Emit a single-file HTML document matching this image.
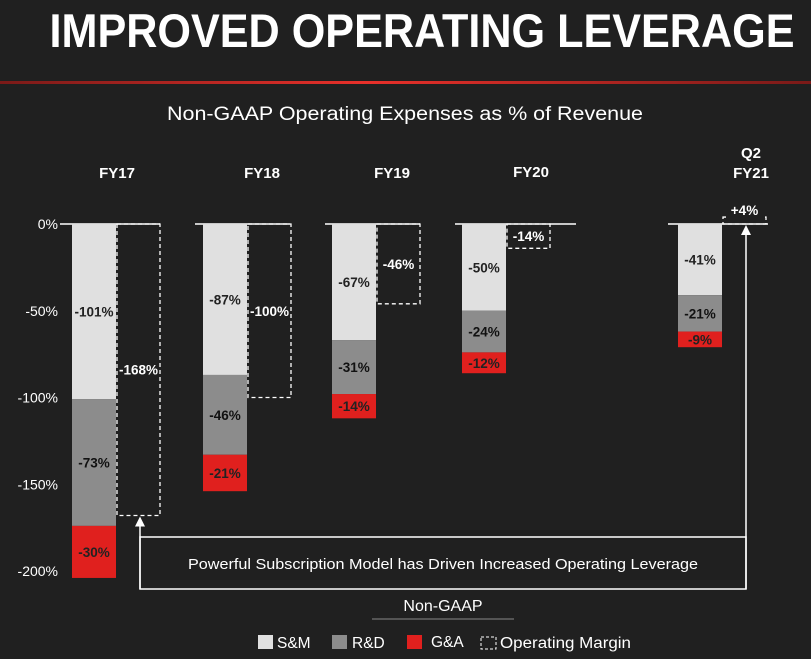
<!DOCTYPE html>
<html><head><meta charset="utf-8"><style>
body{margin:0;background:#202020;width:811px;height:654px;overflow:hidden;font-family:"Liberation Sans",sans-serif}
</style></head><body>
<svg width="811" height="654">
<rect width="811" height="654" fill="#202020"/>
<text x="422" y="47" text-anchor="middle" fill="#fff" font-size="47" font-weight="bold" textLength="745" lengthAdjust="spacingAndGlyphs">IMPROVED OPERATING LEVERAGE</text>
<defs><linearGradient id="rg"><stop offset="0" stop-color="#7a1a18"/><stop offset="0.45" stop-color="#e8302a"/><stop offset="1" stop-color="#7a1a18"/></linearGradient></defs>
<rect x="0" y="81" width="811" height="3" fill="url(#rg)"/>
<text x="405" y="120" text-anchor="middle" fill="#fff" font-size="19" textLength="476" lengthAdjust="spacingAndGlyphs">Non-GAAP Operating Expenses as % of Revenue</text>
<g id="plot"></g>
<rect x="140" y="537" width="606" height="52" fill="none" stroke="#fff" stroke-width="1.5"/>
<text x="443" y="569" text-anchor="middle" fill="#fff" font-size="14.5" textLength="510" lengthAdjust="spacingAndGlyphs">Powerful Subscription Model has Driven Increased Operating Leverage</text>
<text x="443" y="611" text-anchor="middle" fill="#fff" font-size="16">Non-GAAP</text>
<line x1="372" y1="619" x2="514" y2="619" stroke="#888" stroke-width="1"/>
<g font-size="15.5" fill="#fff">
<rect x="258" y="635" width="15" height="14" fill="#e0e0e0"/><text x="277" y="648">S&amp;M</text>
<rect x="332" y="635" width="15" height="14" fill="#8c8c8c"/><text x="352" y="648">R&amp;D</text>
<rect x="407" y="635" width="15" height="14" fill="#e0201e"/><text x="431" y="647">G&amp;A</text>
<rect x="481" y="637" width="15" height="12" fill="none" stroke="#fff" stroke-dasharray="3,2"/><text x="500" y="648" textLength="131" lengthAdjust="spacingAndGlyphs">Operating Margin</text>
</g>
</svg>
<script>
const periods=["FY17","FY18","FY19","FY20","Q2 FY21"];
const smVals=[101,87,67,50,41];
const rdVals=[73,46,31,24,21];
const gaVals=[30,21,14,12,9];
const marginVals=[-168,-100,-46,-14,4];
const yTicks=[0,-50,-100,-150,-200];
const ns="http://www.w3.org/2000/svg";
const plot=document.getElementById('plot');
const y0=224,k=1.735;
function y(v){return y0-v*k;}
const barX=[72,203,332,462,678],bw=44;
function mk(t,a){const e=document.createElementNS(ns,t);for(const q in a)e.setAttribute(q,a[q]);plot.appendChild(e);return e;}
yTicks.forEach(t=>{const e=mk('text',{x:58,y:y(t)+5,'text-anchor':'end',fill:'#fff','font-size':14});e.textContent=t+'%';

});
[[60,160],[195,290],[325,420],[455,576],[668,768]].forEach(s=>{const l=mk('line',{x1:s[0],x2:s[1],y1:y0,y2:y0,stroke:'#fff','stroke-width':1.5});

});
const labY=[[173],[173],[173],[172],[156,176]];
const labX=[117,262,392,531,751];
periods.forEach((p,i)=>{
 const parts=p.split(' ');
 parts.forEach((s,j)=>{const t=mk('text',{x:labX[i],y:parts.length>1?(158+j*20):(labY[i][0]+5),'text-anchor':'middle',fill:'#fff','font-size':15,'font-weight':'bold'});t.textContent=s;
 
 });
 const x=barX[i];
 let cum=0;
 [[smVals[i],'#e0e0e0','#222','sm'],[rdVals[i],'#8c8c8c','#111','rd'],[gaVals[i],'#e0201e','#222','ga']].forEach(s=>{
  const top=y(-cum),bot=y(-(cum+s[0]));
  const r=mk('rect',{x:x,y:top,width:bw,height:bot-top,fill:s[1]});
  
  
  const t=mk('text',{x:x+bw/2,y:(top+bot)/2+5,'text-anchor':'middle',fill:s[2],'font-size':13.5,'font-weight':'bold'});
  t.textContent='-'+s[0]+'%';
  
  
  cum+=s[0];
 });
 const m=marginVals[i],mx=x+bw+1,ya=Math.min(y(0),y(m)),yb=Math.max(y(0),y(m));
 const d=mk('rect',{x:mx,y:ya,width:43,height:yb-ya,fill:'none',stroke:'#fff','stroke-width':1.3,'stroke-dasharray':'4,3'});
 
 
 const ly=m>0?ya-2:(ya+yb)/2+5;
 const bg=mk('rect',{x:mx+3,y:ly-13,width:37,height:16,fill:'#202020'});
 
 
 const t=mk('text',{x:mx+21.5,y:ly,'text-anchor':'middle',fill:'#fff','font-size':13.5,'font-weight':'bold'});
 t.textContent=(m>0?'+':'')+m+'%';
 
 
});
const ax1=140,ay1=y(marginVals[0]),ax2=746,ay2=y(0);
[[ax1,ay1],[ax2,ay2]].forEach(a=>{
 const l=mk('line',{x1:a[0],x2:a[0],y1:a[1]+10,y2:589,stroke:'#fff','stroke-width':1.5});
 
 
 const p=mk('polygon',{points:`${a[0]-5},${a[1]+11} ${a[0]+5},${a[1]+11} ${a[0]},${a[1]+1}`,fill:'#fff'});
 
 
});
</script>
</body></html>
